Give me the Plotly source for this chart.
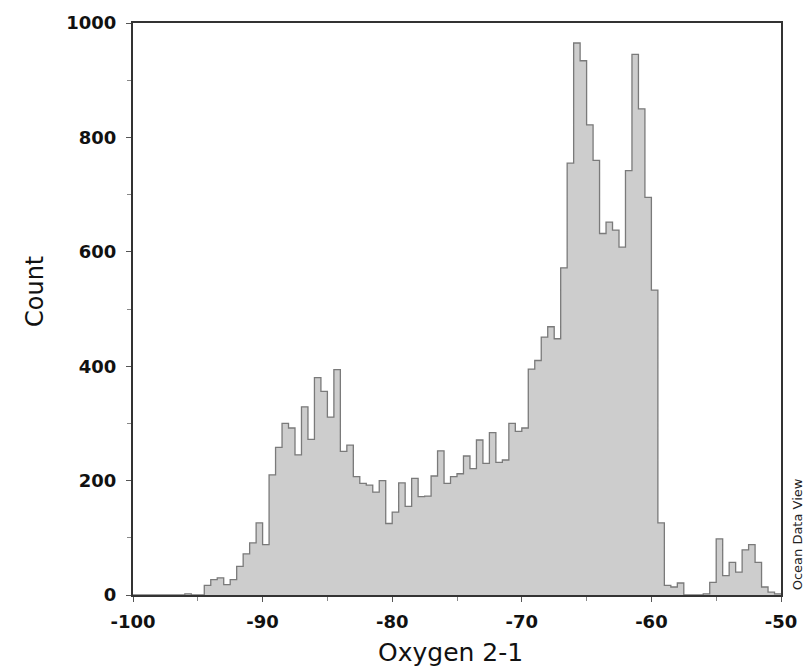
import plotly.graph_objects as go

# Histogram of "Oxygen 2-1": bins 0.5 wide, left edges from -100 to -50.5
bin_start = -100.0
bin_width = 0.5
counts = [
    0, 0, 0, 0, 0, 0, 0, 0,            # -100 .. -96.5
    2, 0, 0,                            # -96 .. -95
    17, 27, 30, 18, 27, 50, 72, 91, 126, 88,          # -94.5 .. -90
    210, 258, 300, 292, 245, 329, 272, 380, 356, 311,  # -89.5 .. -85
    394, 251, 262, 207, 195, 192, 180, 200, 125, 145,  # -84.5 .. -80
    196, 155, 204, 172, 173, 208, 252, 195, 207, 212,  # -79.5 .. -75
    243, 221, 271, 230, 284, 232, 236, 300, 286, 292,  # -74.5 .. -70
    395, 410, 451, 469, 448, 572, 755, 965, 934, 822,  # -69.5 .. -65
    760, 632, 652, 638, 608, 742, 945, 850, 695, 533,  # -64.5 .. -60
    126, 17, 14, 21, 0, 0, 0, 2, 22, 98,               # -59.5 .. -55
    34, 57, 40, 79, 88, 57, 14, 5, 2,                  # -54.5 .. -50.5
]

x_tick_vals = [-100, -90, -80, -70, -60, -50]
x_tick_text = ["-100", "-90", "-80", "-70", "-60", "-50"]
x_minor_vals = [-95, -85, -75, -65, -55]
y_tick_vals = [0, 200, 400, 600, 800, 1000]
y_tick_text = ["0", "200", "400", "600", "800", "1000"]
y_minor_vals = [100, 300, 500, 700, 900]

x_title = "Oxygen 2-1"
y_title = "Count"
credit = "Ocean Data View"

edges = [bin_start + i * bin_width for i in range(len(counts) + 1)]
step_y = counts + [counts[-1]]

fig = go.Figure()
fig.add_trace(go.Scatter(
    x=edges, y=step_y, mode="lines", line_shape="hv",
    line=dict(color="#7a7a7a", width=1.3),
    fill="tozeroy", fillcolor="#cdcdcd", hoverinfo="skip", showlegend=False,
))

tickfont = dict(family="DejaVu Sans", size=18, color="#111111", weight="bold")

fig.update_layout(
    width=812, height=666,
    margin=dict(l=133, r=31, t=17, b=71),
    paper_bgcolor="white", plot_bgcolor="white",
    showlegend=False,
    xaxis=dict(
        range=[-100, -50], showgrid=False, zeroline=False,
        showline=True, mirror=True, linecolor="#333333", linewidth=2,
        tickmode="array", tickvals=x_tick_vals, ticktext=x_tick_text,
        ticks="outside", ticklen=5, tickwidth=1, tickcolor="#555555",
        tickfont=tickfont, ticklabelstandoff=4,
        minor=dict(tickmode="array", tickvals=x_minor_vals, ticks="outside",
                   ticklen=4, tickcolor="#888888", showgrid=False),
    ),
    yaxis=dict(
        range=[0, 1000], showgrid=False, zeroline=False,
        showline=True, mirror=True, linecolor="#333333", linewidth=2,
        tickmode="array", tickvals=y_tick_vals, ticktext=y_tick_text,
        ticks="outside", ticklen=5, tickwidth=1, tickcolor="#555555",
        tickfont=tickfont, ticklabelstandoff=6,
        minor=dict(tickmode="array", tickvals=y_minor_vals, ticks="outside",
                   ticklen=4, tickcolor="#888888", showgrid=False),
    ),
    annotations=[
        dict(text=x_title, xref="paper", yref="paper", x=0.49, y=-0.072,
             xanchor="center", yanchor="top", showarrow=False,
             font=dict(family="DejaVu Sans", size=25, color="#111111")),
        dict(text=y_title, xref="paper", yref="paper", x=-0.151, y=0.53,
             xanchor="center", yanchor="middle", textangle=-90, showarrow=False,
             font=dict(family="DejaVu Sans", size=24, color="#111111")),
        dict(text=credit, xref="paper", yref="paper", x=1.025, y=0.005,
             xanchor="center", yanchor="bottom", textangle=-90, showarrow=False,
             font=dict(family="DejaVu Sans", size=13, color="#222222")),
    ],
)

fig.write_html("out.html")
